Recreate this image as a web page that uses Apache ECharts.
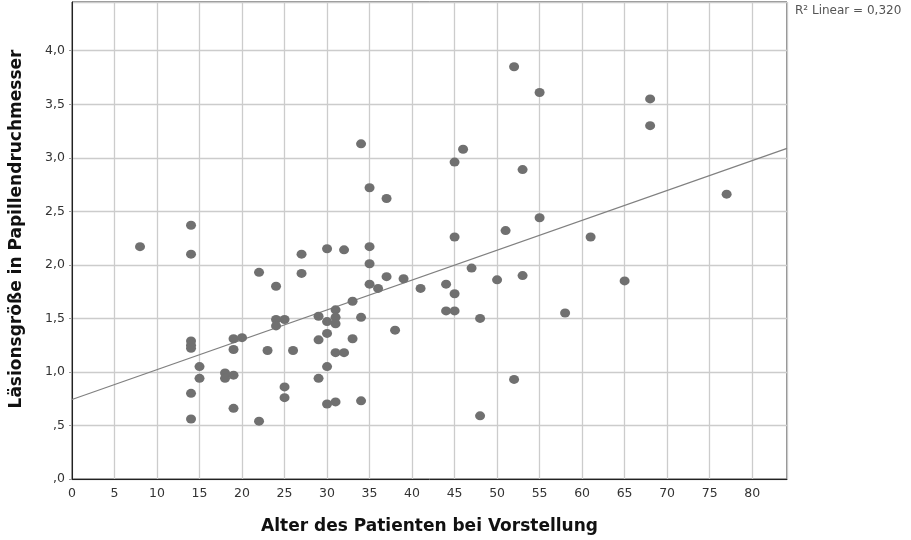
<!DOCTYPE html>
<html>
<head>
<meta charset="utf-8">
<script src="https://cdn.jsdelivr.net/npm/echarts@6/dist/echarts.min.js"></script>
<style>html,body{margin:0;padding:0;background:#fff;}#c{width:911px;height:540px;}</style>
</head>
<body>
<div id="c"></div>
<script>
// Age of patient (years)
const ages = [
  8,
  14, 14, 14, 14, 14, 14, 14,
  15, 15,
  18, 18,
  19, 19, 19, 19,
  20,
  22, 22,
  23,
  24, 24, 24,
  25, 25, 25,
  26,
  27, 27,
  29, 29, 29,
  30, 30, 30, 30, 30,
  31, 31, 31, 31, 31,
  32, 32,
  33, 33,
  34, 34, 34,
  35, 35, 35, 35,
  36,
  37, 37,
  38,
  39,
  41,
  44, 44,
  45, 45, 45, 45,
  46,
  47,
  48, 48,
  50,
  51,
  52, 52,
  53, 53,
  55, 55,
  58,
  61,
  65,
  68, 68,
  77
];
// Lesion size in papilla diameters
const sizes = [
  2.17,
  2.37, 2.10, 1.29, 1.25, 1.22, 0.80, 0.56,
  1.05, 0.94,
  0.99, 0.94,
  1.31, 1.21, 0.97, 0.66,
  1.32,
  1.93, 0.54,
  1.20,
  1.80, 1.49, 1.43,
  1.49, 0.86, 0.76,
  1.20,
  2.10, 1.92,
  1.52, 1.30, 0.94,
  2.15, 1.47, 1.36, 1.05, 0.70,
  1.58, 1.51, 1.45, 1.18, 0.72,
  2.14, 1.18,
  1.66, 1.31,
  3.13, 1.51, 0.73,
  2.72, 2.17, 2.01, 1.82,
  1.78,
  2.62, 1.89,
  1.39,
  1.87,
  1.78,
  1.82, 1.57,
  2.96, 2.26, 1.73, 1.57,
  3.08,
  1.97,
  1.50, 0.59,
  1.86,
  2.32,
  3.85, 0.93,
  2.89, 1.90,
  3.61, 2.44,
  1.55,
  2.26,
  1.85,
  3.55, 3.30,
  2.66
];
// Linear fit as drawn in the reference
const fitIntercept = 0.742;
const fitSlope = 0.0279;
const r2Text = 'R\u00B2 Linear = 0,320';
const xTitle = 'Alter des Patienten bei Vorstellung';
const yTitle = 'L\u00E4sionsgr\u00F6\u00DFe in Papillendruchmesser';
const xMin = 0, xMax = 84.1, xStep = 5;
const yMin = 0, yMax = 4.455, yStep = 0.5;

const points = ages.map((a, i) => [a, sizes[i]]);
const fitLine = [[xMin, fitIntercept + fitSlope * xMin], [xMax, fitIntercept + fitSlope * xMax]];

const chart = echarts.init(document.getElementById('c'), null, {renderer: 'canvas'});
const fontFam = 'DejaVu Sans';
function isStep(v, s) { return Math.abs(v / s - Math.round(v / s)) < 1e-6; }

chart.setOption({
  animation: false,
  backgroundColor: '#ffffff',
  grid: {left: 72, right: 124, top: 2, bottom: 58, show: true, borderColor: '#222', borderWidth: 1, backgroundColor: 'transparent'},
  xAxis: {
    type: 'value', min: xMin, max: xMax, interval: xStep,
    name: xTitle, nameLocation: 'middle', nameGap: 39,
    nameTextStyle: {fontFamily: fontFam, fontWeight: 'bold', fontSize: 17, color: '#111', verticalAlign: 'top'},
    axisLine: {show: true, lineStyle: {color: '#222', width: 1}},
    axisTick: {show: false},
    splitLine: {show: true, lineStyle: {color: '#cccccc', width: 1.3}},
    axisLabel: {
      fontFamily: fontFam, fontSize: 12.5, color: '#333', margin: 8, showMaxLabel: false,
      formatter: v => isStep(v, xStep) ? String(Math.round(v)) : ''
    }
  },
  yAxis: {
    type: 'value', min: yMin, max: yMax, interval: yStep,
    axisLine: {show: true, lineStyle: {color: '#222', width: 1}},
    axisTick: {show: true, length: 3, lineStyle: {color: '#999'}},
    splitLine: {show: true, lineStyle: {color: '#cccccc', width: 1.3}},
    axisLabel: {
      fontFamily: fontFam, fontSize: 12.5, color: '#333', margin: 7, showMaxLabel: false,
      formatter: v => isStep(v, yStep) ? v.toFixed(1).replace('.', ',').replace(/^0/, '') : ''
    }
  },
  series: [
    {
      type: 'line', data: fitLine, showSymbol: false, symbol: 'none', silent: true,
      lineStyle: {color: '#808080', width: 1.2}, z: 3
    },
    {
      type: 'scatter', data: points, symbol: 'circle', symbolSize: [10, 9],
      itemStyle: {color: '#707070', opacity: 1}, z: 4
    }
  ],
  graphic: [
    {type: 'text', left: 795, top: 5, style: {text: r2Text, fontFamily: fontFam, fontSize: 12, fill: '#555'}},
    {type: 'text', x: 17, y: 229, rotation: Math.PI / 2,
     style: {text: yTitle, fontFamily: fontFam, fontWeight: 'bold', fontSize: 17, fill: '#111', align: 'center', verticalAlign: 'middle'}}
  ]
});
</script>
</body>
</html>
